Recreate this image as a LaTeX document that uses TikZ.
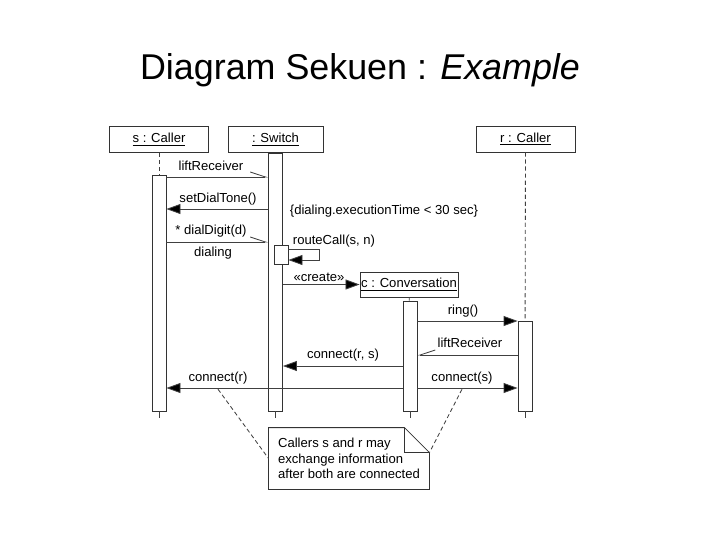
\documentclass[tikz,border=0pt]{standalone}
\usepackage{fontspec}
\setmainfont{Liberation Sans}
\usetikzlibrary{arrows.meta}

\begin{document}
\begin{tikzpicture}[x=0.025cm,y=-0.025cm,line width=0.6pt,
    every node/.style={font=\fontsize{9.3}{10.8}\selectfont},
    obj/.style={draw=black!80,fill=white,minimum width=2.475cm,minimum height=0.65cm,inner sep=0pt},
    bar/.style={draw=black!80,fill=white,minimum width=0.35cm,inner sep=0pt},
    life/.style={draw=black!75,dash pattern=on 3pt off 2pt},
    call/.style={draw=black!75,-{Triangle[length=0.35cm,width=0.25cm,fill=black]}},
    sig/.style={draw=black!75,-{Straight Barb[harpoon,length=0.38cm,width=0.25cm]}}]
  \useasboundingbox (0,0) rectangle (720,540);
  \node[font=\fontsize{25.5}{30}\selectfont,anchor=base] (title) at (360,79) {Diagram Sekuen : \textit{Example}};

  % objects
  \node[obj] (s) at (159,139.5) {\underline{s : Caller}};
  \node[obj,minimum width=2.375cm] (sw) at (275.5,139.5) {\underline{: Switch}};
  \node[obj] (r) at (525.5,139) {\underline{r : Caller}};

  % activations
  \node[bar,minimum height=5.9cm] (sbar) at (159,293) {};
  \node[bar,minimum height=6.45cm] (swbar) at (275.5,282) {};
  \node[bar,minimum height=2.75cm] (cbar) at (410,356) {};
  \node[bar,minimum height=2.25cm] (rbar) at (525,366) {};
  \node[bar,minimum height=0.475cm] (rc) at (281,254.5) {};
  \node[obj,minimum width=2.45cm,minimum height=0.625cm] (c) at (409,284.5) {\underline{c : Conversation}};

  \draw[life] (s) -- (sbar);
  \draw[life] (r) -- (rbar);
  \draw[draw=black!75] (c) -- (cbar);
  \foreach \b in {sbar,swbar,cbar,rbar}
    \draw[draw=black!75] (\b.south) -- ++(0,7);

  % messages
  \coordinate (m1) at (0,177);
  \coordinate (m2) at (0,209);
  \coordinate (m3) at (0,242);
  \coordinate (m4) at (0,249);
  \coordinate (loop) at (319,260);
  \coordinate (m6) at (0,321);
  \coordinate (m7) at (0,355);
  \coordinate (m8) at (0,366);
  \coordinate (m9) at (0,388);
  \draw[sig] (sbar.east |- m1) -- (swbar.west |- m1);
  \draw[call] (swbar.west |- m2) -- (sbar.east |- m2);
  \draw[sig] (sbar.east |- m3) -- (swbar.west |- m3);
  \draw[call] (rc.east |- m4) -| (loop) -- (rc.east |- loop);
  \draw[call] (swbar.east |- c.west) -- (c.west);
  \draw[call] (cbar.east |- m6) -- (rbar.west |- m6);
  \draw[sig,-{Straight Barb[harpoon,swap,length=0.38cm,width=0.25cm]}] (rbar.west |- m7) -- (cbar.east |- m7);
  \draw[call] (cbar.west |- m8) -- (swbar.east |- m8);
  \draw[call] (cbar.east |- m9) -- (rbar.west |- m9);
  \draw[call] (cbar.west |- m9) -- (sbar.east |- m9);

  \node (l1) at (211,166) {liftReceiver};
  \node (l2) at (218,199) {setDialTone()};
  \node (l3) at (211,231) {* dialDigit(d)};
  \node (l4) at (213,253) {dialing};
  \node (l5) at (384,211) {\{dialing.executionTime < 30 sec\}};
  \node (l6) at (334,241) {routeCall(s, n)};
  \node (l7) at (319,277) {«create»};
  \node (l8) at (463,311) {ring()};
  \node (l9) at (470,343) {liftReceiver};
  \node (l10) at (343,355) {connect(r, s)};
  \node (l11) at (462,378) {connect(s)};
  \node (l12) at (218,378) {connect(r)};

  % note
  \node[minimum width=4cm,minimum height=1.525cm,inner sep=0pt,align=left] (note) at (349,458.5)
    {Callers s and r may\\exchange information\\after both are connected};
  \draw[draw=black!80] (note.south west) -- (note.north west)
    -- ([xshift=-0.625cm]note.north east) coordinate (fa)
    -- ([yshift=-0.625cm]note.north east) coordinate (fold)
    -- (note.south east) -- cycle;
  \draw[draw=black!80] (fa) |- (fold);
  \draw[life] (l12.south) -- (note.west);
  \draw[life] (l11.south) -- (fold);
\end{tikzpicture}
\end{document}
